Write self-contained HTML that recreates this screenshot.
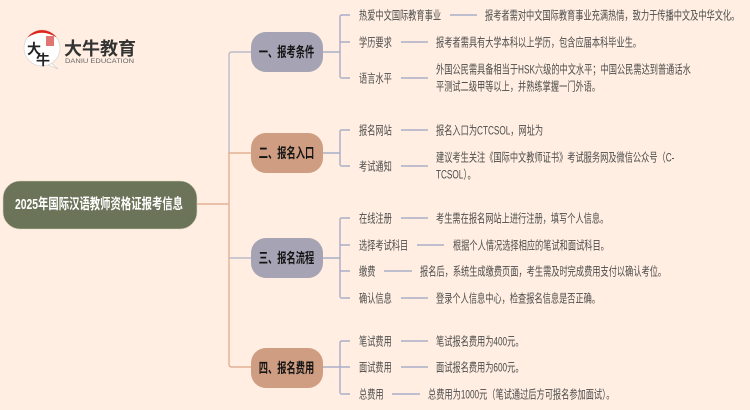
<!DOCTYPE html>
<html lang="zh"><head><meta charset="utf-8"><style>
html,body{margin:0;padding:0;width:750px;height:410px;overflow:hidden;background:#ffeee1}
svg{display:block}
text{font-family:"Liberation Sans","Noto Sans CJK SC",sans-serif}
.l{font-size:12px;fill:#4c4c4c}
.b{font-size:14px;font-weight:700;fill:#141414;text-anchor:middle}
.g{fill:none;stroke:#bcbbcb;stroke-width:1.4}
.s{fill:none;stroke:#e3b096;stroke-width:1.4}
.p{fill:none;stroke:#a9adc9;stroke-width:1.4}
</style></head><body>
<svg width="750" height="410" viewBox="0 0 750 410" xmlns="http://www.w3.org/2000/svg">
<rect width="750" height="410" fill="#ffeee1"/>

<!-- spine -->
<path class="g" d="M251 52H232Q229 52 229 55V153"/>
<path class="s" d="M197 204H229M251 153H229V364Q229 367 232 367H251"/>
<path class="g" d="M229 258H251"/>

<!-- root -->
<rect x="3" y="181" width="194" height="48" rx="17" fill="#6b7359" stroke="#d8d3bd" stroke-width=".6"/>
<text transform="translate(99 209) scale(.715 1)" text-anchor="middle" font-size="14.500" font-weight="700" fill="#fff">2025年国际汉语教师资格证报考信息</text>

<!-- branches -->
<rect x="251" y="32" width="72" height="40" rx="15" fill="#a5a3b4"/>
<rect x="251" y="133" width="72" height="40" rx="15" fill="#cf9d82"/>
<rect x="251" y="238" width="72" height="40" rx="15" fill="#a5a3b4"/>
<rect x="251" y="348" width="72" height="40" rx="15" fill="#cf9d82"/>
<text class="b" transform="translate(286.500 57) scale(.66 1)">一、报考条件</text>
<text class="b" transform="translate(286.500 158) scale(.66 1)">二、报名入口</text>
<text class="b" transform="translate(286.500 263) scale(.66 1)">三、报名流程</text>
<text class="b" transform="translate(286.500 373) scale(.66 1)">四、报名费用</text>

<!-- brackets -->
<path class="p" d="M323 52H340M350 15H342Q340 15 340 17V76Q340 78 342 78H350M340 42H350"/>
<path class="p" d="M323 153H340M350 130H342Q340 130 340 132V164Q340 166 342 166H350"/>
<path class="p" d="M323 258H340M350 218H342Q340 218 340 220V296Q340 298 342 298H350M340 245H350M340 271H350"/>
<path class="p" d="M323 367H350M350 341H342Q340 341 340 343V392Q340 394 342 394H350"/>

<!-- leaf connectors -->
<path class="p" d="M450 15H477M401 42H428M401 78H428M401 130H428M401 166H428M401 218H428M417 245H444M384 271H412M401 298H428M401 341H428M401 367H428M392 394H420"/>

<!-- leaf labels -->
<g class="l">
<text transform="translate(359 19.500) scale(.685 1)">热爱中文国际教育事业</text>
<text transform="translate(359 46.500) scale(.685 1)">学历要求</text>
<text transform="translate(359 82.500) scale(.685 1)">语言水平</text>
<text transform="translate(359 134.500) scale(.685 1)">报名网站</text>
<text transform="translate(359 170.500) scale(.685 1)">考试通知</text>
<text transform="translate(359 222.500) scale(.685 1)">在线注册</text>
<text transform="translate(359 249.500) scale(.685 1)">选择考试科目</text>
<text transform="translate(359 275.500) scale(.685 1)">缴费</text>
<text transform="translate(359 302.500) scale(.685 1)">确认信息</text>
<text transform="translate(359 345.500) scale(.685 1)">笔试费用</text>
<text transform="translate(359 371.500) scale(.685 1)">面试费用</text>
<text transform="translate(359 398.500) scale(.685 1)">总费用</text>

<text transform="translate(485 19.500) scale(.685 1)">报考者需对中文国际教育事业充满热情，致力于传播中文及中华文化。</text>
<text transform="translate(436 46.500) scale(.685 1)">报考者需具有大学本科以上学历，包含应届本科毕业生。</text>
<text transform="translate(436 73.500) scale(.685 1)">外国公民需具备相当于HSK六级的中文水平；中国公民需达到普通话水</text>
<text transform="translate(436 90.500) scale(.685 1)">平测试二级甲等以上，并熟练掌握一门外语。</text>
<text transform="translate(436 134.500) scale(.685 1)">报名入口为CTCSOL，网址为</text>
<text transform="translate(436 161.500) scale(.685 1)">建议考生关注《国际中文教师证书》考试服务网及微信公众号（C-</text>
<text transform="translate(436 178.500) scale(.685 1)">TCSOL）。</text>
<text transform="translate(436 222.500) scale(.685 1)">考生需在报名网站上进行注册，填写个人信息。</text>
<text transform="translate(453 249.500) scale(.685 1)">根据个人情况选择相应的笔试和面试科目。</text>
<text transform="translate(420 275.500) scale(.685 1)">报名后，系统生成缴费页面，考生需及时完成费用支付以确认考位。</text>
<text transform="translate(436 302.500) scale(.685 1)">登录个人信息中心，检查报名信息是否正确。</text>
<text transform="translate(436 345.500) scale(.685 1)">笔试报名费用为400元。</text>
<text transform="translate(436 371.500) scale(.685 1)">面试报名费用为600元。</text>
<text transform="translate(428 398.500) scale(.685 1)">总费用为1000元（笔试通过后方可报名参加面试）。</text>
</g>

<!-- logo -->
<path d="M50 62L58 69L48 65Z" fill="#fff" stroke="#cfcac6" stroke-width=".6"/>
<circle cx="42" cy="48" r="18" fill="#fff" stroke="#d8d3cf" stroke-width=".7"/>
<path d="M27.500 37.500A18 18 0 0 1 56.500 37.500Q42 28 27.500 37.500Z" fill="#e2231a"/>
<rect x="46" y="36" width="8" height="10" fill="#d9534f" opacity=".8"/>
<text x="27" y="54" font-size="14" font-weight="700" fill="#222">大</text>
<text x="36" y="65" font-size="14" font-weight="700" fill="#222">牛</text>
<text x="64" y="55" font-size="18" font-weight="700" fill="#333" textLength="72">大牛教育</text>
<text x="65" y="63" font-size="6.500" fill="#666" textLength="69" lengthAdjust="spacingAndGlyphs">DANIU EDUCATION</text>
</svg>
</body></html>
